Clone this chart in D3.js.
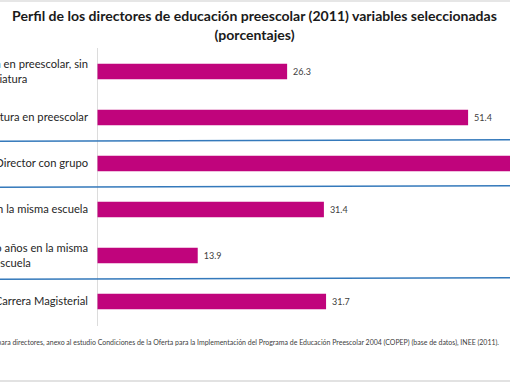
<!doctype html>
<html lang="es">
  <head>
    <meta charset="utf-8">
    <title>Perfil de los directores de educación preescolar (2011)</title>
    <script src="https://d3js.org/d3.v7.min.js"></script>
    <style>
      body { margin: 0; background: #fff; }
      svg { display: block; font-family: Lato, "Open Sans", sans-serif; }
    </style>
  </head>

  <body>
    <svg width="510" height="382"></svg>
    <script>
      var svg = d3.select('svg');

      // data (the 3rd bar runs past the frame, its value is a guess)
      var categories = [
        ['Con normal básica en preescolar, sin', 'licenciatura'],
        ['Licenciatura en preescolar'],
        ['Director con grupo'],
        ['Primer año en la misma escuela'],
        ['Más de cinco años en la misma', 'escuela'],
        ['Carrera Magisterial']
      ];
      var values = [26.3, 51.4, 70.6, 31.4, 13.9, 31.7];
      var separatorsAfter = [1, 2, 4];   // blue rules drawn below these rows

      var titleLines = [
        'Perfil de los directores de educación preescolar (2011) variables seleccionadas',
        '(porcentajes)'
      ];
      var sourceNote = 'Fuente: INEE, cálculos con base en el Cuestionario para directores, anexo al estudio Condiciones de la Oferta para la Implementación del Programa de Educación Preescolar 2004 (COPEP) (base de datos), INEE (2011).';
      var sourceVisible = 'ara directores, anexo al estudio Condiciones de la Oferta para la Implementación del Programa de Educación Preescolar 2004 (COPEP) (base de datos), INEE (2011).';

      var W = 510, H = 382;

      var x = d3.scaleLinear().domain([0, 100]).range([97.5, 818.5]);
      var y = d3.scaleBand()
        .domain(d3.range(values.length))
        .range([48.5, 324.5])
        .paddingInner(0.663)
        .paddingOuter(0.3315);

      // frame bits of the screenshot
      svg.append('rect').attr('x', 0).attr('y', 0).attr('width', W).attr('height', 2).attr('fill', '#e6e6e6');
      svg.append('rect').attr('x', 0).attr('y', H - 2).attr('width', W).attr('height', 2).attr('fill', '#e2e2e2');

      // title
      var title = svg.append('g').attr('class', 'title');
      titleLines.forEach(function(t, i){
        title.append('text')
          .attr('x', 254.5)
          .attr('y', 16 + i * 19)
          .attr('dy', '0.35em')
          .attr('text-anchor', 'middle')
          .attr('font-weight', 'bold')
          .attr('font-size', 13.5)
          .attr('fill', '#1a1a1a')
          .text(t);
      });
      // fit the first line to the width it has in the reference
      var t0 = title.select('text').node();
      var fs = 13.5 * 485 / t0.getComputedTextLength();
      title.selectAll('text').attr('font-size', fs);

      // value axis line
      svg.append('line')
        .attr('x1', x(0)).attr('x2', x(0))
        .attr('y1', 48).attr('y2', 326)
        .attr('stroke', '#dcdcdc').attr('stroke-width', 1);

      // bars
      svg.selectAll('rect.bar').data(values).enter()
        .append('rect')
          .attr('class', 'bar')
          .attr('x', x(0))
          .attr('y', function(d, i){ return y(i); })
          .attr('width', function(d){ return x(d) - x(0); })
          .attr('height', y.bandwidth())
          .attr('fill', '#c0047c');

      // value labels
      svg.selectAll('text.val').data(values).enter()
        .append('text')
          .attr('class', 'val')
          .attr('x', function(d){ return x(d) + 6; })
          .attr('y', function(d, i){ return y(i) + y.bandwidth() / 2; })
          .attr('dy', '0.35em')
          .attr('font-size', 9)
          .attr('fill', '#404040')
          .text(function(d){ return d.toFixed(1); });

      // category labels, wrapped lines centred as in Excel (the screenshot cuts them on the left)
      var labelRight = 88, lh = 14.5;
      categories.forEach(function(lines, i){
        var c = y(i) + y.bandwidth() / 2;
        var top = c - (lines.length - 1) * lh / 2;
        var g = svg.append('text')
          .attr('class', 'cat')
          .attr('text-anchor', 'middle')
          .attr('font-size', 11.2)
          .attr('fill', '#262626');
        var spans = g.selectAll('tspan').data(lines).enter()
          .append('tspan')
            .attr('y', function(d, j){ return top + j * lh; })
            .attr('dy', '0.35em')
            .text(function(d){ return d; });
        var widest = d3.max(spans.nodes(), function(n){ return n.getComputedTextLength(); });
        spans.attr('x', labelRight - widest / 2);
      });

      // blue separators, half way between rows
      separatorsAfter.forEach(function(i){
        var yy = (y(i) + y.bandwidth() + y(i + 1)) / 2;
        svg.append('line')
          .attr('x1', 0).attr('x2', W)
          .attr('y1', yy + 0.8).attr('y2', yy - 0.8)
          .attr('stroke', '#3479bb').attr('stroke-width', 1.6);
      });

      // source note, right end at 499, cut on the left
      var probe = svg.append('text').attr('font-size', 6).text(sourceVisible);
      var noteSize = 6 * 499 / probe.node().getComputedTextLength();
      probe.remove();
      svg.append('text')
        .attr('x', 499)
        .attr('y', 343)
        .attr('dy', '0.35em')
        .attr('text-anchor', 'end')
        .attr('font-size', noteSize)
        .attr('fill', '#404040')
        .text(sourceNote);
    </script>
  </body>
</html>
